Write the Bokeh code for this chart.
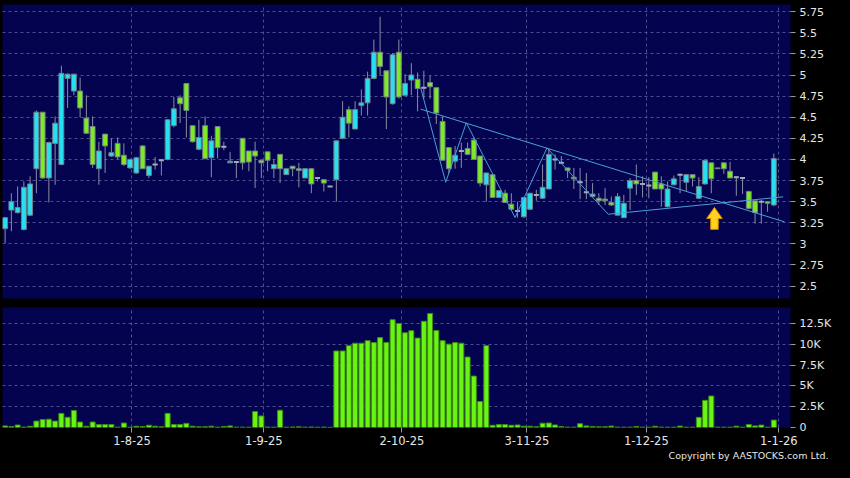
from bokeh.plotting import figure
from bokeh.layouts import column
from bokeh.models import Range1d, FixedTicker, Title, GlobalInlineStyleSheet, ColumnDataSource
from bokeh.embed import file_html
from bokeh.resources import INLINE

# ---------------- data (daily candles, index 0 = first trading day shown) ----------------
opens = [3.18, 3.40, 3.37, 3.17, 3.34, 3.89, 4.56, 3.78, 4.19, 3.94,
         4.96, 4.81, 4.81, 4.49, 4.39, 3.89, 4.30, 4.04, 4.19, 4.05,
         3.90, 3.84, 4.16, 3.81, 3.94, 3.99, 4.00, 4.40, 4.73, 4.90,
         4.40, 4.12, 4.40, 4.02, 4.39, 4.15, 3.96, 3.97, 4.25, 4.10,
         4.10, 3.99, 4.09, 3.89, 4.06, 3.82, 3.92, 3.87, 3.78, 3.89,
         3.78, 3.76, 3.68, 3.76, 4.25, 4.59, 4.36, 4.64, 4.67, 4.96,
         5.27, 5.05, 4.66, 5.27, 4.76, 4.94, 4.95, 4.85, 4.91, 4.85,
         4.45, 4.14, 3.98, 4.10, 4.13, 4.23, 4.04, 3.70, 3.82, 3.55,
         3.60, 3.47, 3.39, 3.32, 3.41, 3.58, 3.54, 3.65, 4.00, 3.96,
         3.90, 3.79, 3.73, 3.61, 3.56, 3.54, 3.53, 3.49, 3.34, 3.31,
         3.66, 3.75, 3.71, 3.69, 3.85, 3.71, 3.44, 3.70, 3.82, 3.73,
         3.82, 3.54, 3.71, 3.96, 3.90, 3.96, 3.86, 3.79, 3.78, 3.62,
         3.51, 3.50, 3.50, 3.46]
highs = [3.32, 3.60, 3.68, 3.74, 3.80, 4.58, 4.56, 4.21, 4.51, 5.11,
         5.02, 5.01, 4.97, 4.76, 4.51, 4.21, 4.30, 4.25, 4.26, 4.19,
         4.01, 4.03, 4.17, 3.92, 4.03, 3.99, 4.47, 4.74, 4.76, 4.90,
         4.40, 4.47, 4.51, 4.28, 4.39, 4.21, 4.09, 3.97, 4.25, 4.10,
         4.21, 3.99, 4.09, 4.00, 4.06, 3.89, 3.92, 3.96, 3.89, 3.90,
         3.78, 3.76, 3.68, 4.23, 4.69, 4.63, 4.69, 4.83, 5.04, 5.42,
         5.69, 5.05, 5.26, 5.42, 5.01, 5.14, 5.03, 5.05, 4.99, 4.85,
         4.51, 4.14, 4.16, 4.20, 4.20, 4.26, 4.04, 3.84, 3.82, 3.63,
         3.64, 3.60, 3.50, 3.55, 3.60, 3.64, 3.94, 4.13, 4.06, 4.04,
         3.90, 3.90, 3.90, 3.84, 3.72, 3.60, 3.66, 3.56, 3.60, 3.58,
         3.78, 3.94, 3.80, 3.79, 3.85, 3.80, 3.74, 3.81, 3.83, 3.83,
         3.82, 3.79, 4.00, 3.96, 3.90, 3.96, 3.97, 3.79, 3.78, 3.63,
         3.51, 3.52, 3.50, 4.07]
lows = [3.01, 3.15, 3.36, 3.16, 3.33, 3.60, 3.77, 3.49, 3.70, 3.93,
        4.61, 4.76, 4.50, 4.30, 3.90, 3.70, 3.84, 4.03, 4.00, 3.92,
        3.89, 3.83, 3.89, 3.78, 3.88, 3.81, 3.99, 4.38, 4.43, 4.26,
        4.20, 4.11, 4.00, 3.79, 4.01, 4.11, 3.96, 3.78, 3.88, 3.86,
        3.66, 3.78, 3.86, 3.78, 3.72, 3.82, 3.80, 3.67, 3.78, 3.60,
        3.74, 3.62, 3.68, 3.50, 4.24, 4.26, 4.36, 4.52, 4.52, 4.95,
        4.99, 4.36, 4.65, 4.72, 4.75, 4.76, 4.57, 4.72, 4.72, 4.42,
        3.99, 3.84, 3.89, 3.90, 4.05, 4.00, 3.68, 3.50, 3.55, 3.55,
        3.49, 3.41, 3.31, 3.31, 3.40, 3.51, 3.53, 3.65, 3.88, 3.96,
        3.78, 3.65, 3.53, 3.53, 3.56, 3.46, 3.46, 3.45, 3.34, 3.31,
        3.40, 3.58, 3.55, 3.54, 3.65, 3.44, 3.43, 3.69, 3.60, 3.62,
        3.68, 3.53, 3.70, 3.60, 3.89, 3.83, 3.78, 3.57, 3.59, 3.41,
        3.24, 3.24, 3.38, 3.45]
closes = [3.31, 3.50, 3.43, 3.67, 3.71, 4.56, 3.78, 4.20, 4.43, 5.02,
          5.01, 5.01, 4.61, 4.31, 3.94, 4.10, 4.16, 4.08, 4.03, 3.94,
          4.00, 4.02, 3.89, 3.92, 3.94, 3.99, 4.47, 4.60, 4.66, 4.58,
          4.21, 4.26, 4.01, 4.22, 4.14, 4.15, 3.98, 3.97, 3.96, 3.97,
          4.04, 3.96, 3.99, 3.94, 3.89, 3.89, 3.89, 3.89, 3.89, 3.71,
          3.78, 3.72, 3.68, 4.22, 4.50, 4.43, 4.59, 4.67, 4.96, 5.27,
          5.10, 4.74, 5.24, 4.74, 4.90, 5.00, 4.84, 4.85, 4.86, 4.55,
          3.99, 3.89, 4.05, 4.10, 4.06, 4.00, 3.72, 3.84, 3.55, 3.63,
          3.49, 3.41, 3.39, 3.55, 3.60, 3.58, 3.67, 4.06, 4.00, 3.96,
          3.87, 3.77, 3.73, 3.61, 3.59, 3.51, 3.51, 3.46, 3.56, 3.48,
          3.75, 3.71, 3.71, 3.69, 3.65, 3.65, 3.65, 3.77, 3.82, 3.82,
          3.78, 3.68, 3.99, 3.77, 3.89, 3.89, 3.78, 3.79, 3.78, 3.42,
          3.37, 3.50, 3.48, 4.01]
volumes = [190, 120, 300, 50, 150, 770, 960, 1000, 770, 1700,
           1230, 2050, 660, 150, 660, 350, 350, 350, 40, 540,
           40, 150, 120, 270, 150, 80, 1700, 350, 350, 500,
           150, 80, 80, 150, 40, 120, 190, 40, 40, 40,
           1930, 1390, 50, 40, 2080, 40, 60, 80, 40, 60,
           30, 50, 20, 9210, 9210, 9850, 10140, 10140, 10450, 10220,
           10820, 10240, 12970, 12520, 11400, 11650, 10760, 12780, 13720, 11670,
           10450, 10030, 10220, 10140, 8480, 6190, 3130, 9850, 270, 350,
           350, 270, 310, 150, 150, 80, 520, 540, 310, 120,
           40, 40, 460, 190, 120, 80, 80, 170, 40, 40,
           40, 120, 40, 40, 150, 40, 40, 40, 170, 40,
           40, 1220, 3270, 3790, 40, 40, 40, 160, 40, 370,
           190, 290, 40, 890]

x_tick_pos = [20.3, 41.4, 63.5, 83.5, 102.6, 123.8]
x_tick_labels = ["1-8-25", "1-9-25", "2-10-25", "3-11-25", "1-12-25", "1-1-26"]
price_ticks = [2.5, 2.75, 3.0, 3.25, 3.5, 3.75, 4.0, 4.25, 4.5, 4.75, 5.0, 5.25, 5.5, 5.75]
price_tick_labels = ["2.5", "2.75", "3", "3.25", "3.5", "3.75", "4", "4.25", "4.5", "4.75",
                     "5", "5.25", "5.5", "5.75"]
vol_ticks = [0, 2500, 5000, 7500, 10000, 12500]
vol_tick_labels = ["0", "2.5K", "5K", "7.5K", "10K", "12.5K"]

# drawn annotations (trend lines and arrow), in (day index, price)
resist_x = [66.5, 124.7]
resist_y = [4.596, 3.261]
zigzag_x = [66.5, 70.5, 73.8, 81.6, 86.7, 96.5, 124.5]
zigzag_y = [4.848, 3.730, 4.434, 3.312, 4.137, 3.351, 3.557]
arrow_x = [113.5, 114.75, 114.1, 114.1, 112.9, 112.9, 112.25]
arrow_y = [3.432, 3.300, 3.300, 3.172, 3.172, 3.300, 3.300]

# ---------------- styling ----------------
NAVY = "#03034f"
UP = "#27e0ef"
DOWN = "#7deb1f"
FLAT = "#a4a8bc"
WICK = "#8c8ea0"
VOLC = "#6af414"
GRID = "#4e4e8e"
TXT = "#e6e6e6"
FONT = "DejaVu Sans"

idx = list(range(len(opens)))
colors, tops, bots = [], [], []
for o, c in zip(opens, closes):
    colors.append(UP if c > o else (DOWN if c < o else FLAT))
    tops.append(max(o, c))
    bots.append(min(o, c))

src = ColumnDataSource(dict(x=idx, o=opens, h=highs, l=lows, c=closes,
                            top=tops, bot=bots, col=colors, vol=volumes))
flat_idx = [i for i in idx if opens[i] == closes[i]]
flat_src = ColumnDataSource(dict(x0=[i - 0.39 for i in flat_idx], x1=[i + 0.39 for i in flat_idx],
                                 y=[opens[i] for i in flat_idx]))

xr = Range1d(-0.42, 125.67)


def style_axis(ax, ticks, labels, size="11px"):
    ax.ticker = FixedTicker(ticks=ticks)
    ax.major_label_overrides = {t: s for t, s in zip(ticks, labels)}
    ax.axis_line_color = None
    ax.major_tick_line_color = "#9a9a9a"
    ax.major_tick_in = 0
    ax.major_tick_out = 5
    ax.minor_tick_line_color = None
    ax.major_label_text_color = TXT
    ax.major_label_text_font = FONT
    ax.major_label_text_font_size = size
    ax.major_label_standoff = 4


def style_fig(p):
    p.xgrid.ticker = FixedTicker(ticks=x_tick_pos)
    for g in (p.xgrid, p.ygrid):
        g.grid_line_color = GRID
        g.grid_line_dash = "3 3"
        g.grid_line_width = 1


# ---------------- price panel ----------------
p1 = figure(width=834, height=302, x_range=xr, y_range=Range1d(2.353, 5.835),
            x_axis_location=None, y_axis_location="right",
            toolbar_location=None, tools="", output_backend="svg",
            min_border_left=2, min_border_right=40, min_border_top=4, min_border_bottom=4,
            background_fill_color=NAVY, border_fill_color="black", outline_line_color=None)
style_fig(p1)
style_axis(p1.yaxis[0], price_ticks, price_tick_labels)

p1.segment(x0="x", y0="l", x1="x", y1="h", source=src, line_color=WICK, line_width=1)
p1.vbar(x="x", top="top", bottom="bot", width=0.78, source=src,
        fill_color="col", line_color="#6f7f8a", line_width=1)
p1.segment(x0="x0", y0="y", x1="x1", y1="y", source=flat_src, line_color=FLAT, line_width=2)

p1.line(resist_x, resist_y, line_color="#4a9fd8", line_width=1)
p1.line(zigzag_x, zigzag_y, line_color="#4a9fd8", line_width=1)
p1.patch(arrow_x, arrow_y, fill_color="#ffd21f", line_color="#d08a00", line_width=1)

# ---------------- volume panel ----------------
p2 = figure(width=834, height=160, x_range=xr, y_range=Range1d(0, 14440),
            y_axis_location="right",
            toolbar_location=None, tools="", output_backend="svg",
            min_border_left=2, min_border_right=40, min_border_top=5, min_border_bottom=35,
            background_fill_color=NAVY, border_fill_color="black", outline_line_color=None)
style_fig(p2)
style_axis(p2.yaxis[0], vol_ticks, vol_tick_labels)
style_axis(p2.xaxis[0], x_tick_pos, x_tick_labels, size="11.5px")
p2.xaxis[0].major_tick_out = 5
p2.xaxis[0].major_label_standoff = 3

p2.vbar(x="x", top="vol", bottom=0, width=0.8, source=src,
        fill_color=VOLC, line_color="#3c8a12", line_width=1)

p2.add_layout(Title(text="Copyright by AASTOCKS.com Ltd.", align="right", text_color=TXT,
                    text_font=FONT, text_font_size="9.5px", text_font_style="normal",
                    standoff=0, offset=-38), "below")

layout = column(p1, p2, spacing=0,
                stylesheets=[GlobalInlineStyleSheet(css="body{background-color:#000000;}")])

open("out.html", "w").write(file_html(layout, INLINE))
